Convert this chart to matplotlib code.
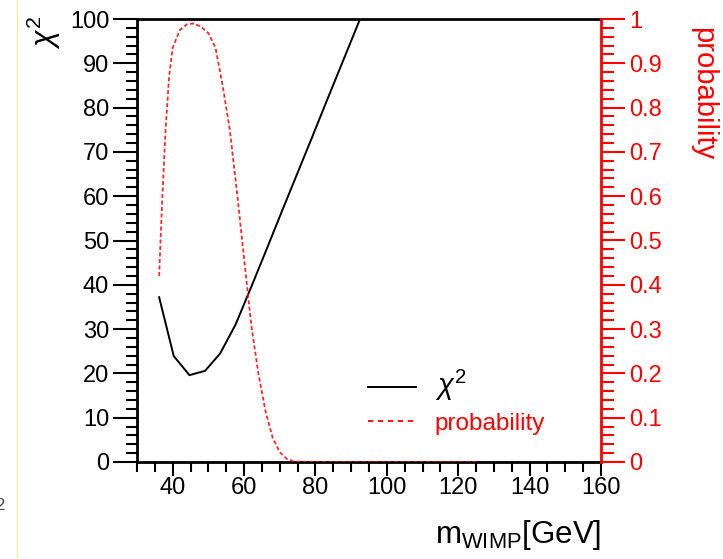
import matplotlib
matplotlib.use('Agg')
from matplotlib import pyplot as plt
from matplotlib.ticker import MultipleLocator, FuncFormatter
from matplotlib.lines import Line2D

plt.rcParams['font.family'] = ['Liberation Sans', 'DejaVu Sans']
plt.rcParams['mathtext.fontset'] = 'custom'
plt.rcParams['mathtext.rm'] = 'Liberation Sans'
plt.rcParams['mathtext.it'] = 'Liberation Sans:italic'

# chi2 curve (left axis)
chi2_mass = [36.2, 40.3, 44.7, 49.1, 53.3, 57.6, 62.0, 66.3, 70.6, 74.9,
             79.2, 83.5, 87.8, 92.5]
chi2_vals = [37.2, 23.9, 19.6, 20.6, 24.5, 31.0, 39.5, 48.0, 56.6, 65.1,
             73.6, 82.2, 90.7, 100.0]

# probability curve (right axis)
prob_mass = [36.2, 37.0, 38.0, 39.0, 40.0, 42.0, 44.0, 46.0, 48.0, 50.0,
             52.0, 54.0, 56.0, 58.0, 60.0, 62.0, 64.0, 66.0, 68.0, 70.0,
             72.0, 74.0, 80.0, 90.0, 100.0, 110.0, 125.0]
prob_vals = [0.42, 0.58, 0.75, 0.87, 0.935, 0.975, 0.988, 0.99, 0.982, 0.968,
             0.935, 0.85, 0.75, 0.61, 0.46, 0.31, 0.2, 0.115, 0.055, 0.022,
             0.007, 0.001, 0.0, 0.0, 0.0, 0.0, 0.0]

W, H = 723, 559
fig = plt.figure(figsize=(W / 100, H / 100), dpi=100)
ax = fig.add_axes([137 / W, 1 - 462 / H, (601 - 137) / W, (462 - 19) / H])
ax2 = ax.twinx()

ax.plot(chi2_mass, chi2_vals, color='black', lw=1.4)
ax2.plot(prob_mass, prob_vals, color='red', lw=1.3, ls=(0, (2.2, 1.4)),
         alpha=0.85)

ax.set_xlim(30, 160)
ax.set_ylim(0, 100)
ax2.set_ylim(0, 1)

# left / bottom axes
ax.xaxis.set_major_locator(MultipleLocator(20))
ax.xaxis.set_minor_locator(MultipleLocator(5))
ax.yaxis.set_major_locator(MultipleLocator(10))
ax.yaxis.set_minor_locator(MultipleLocator(2))
ax.tick_params(axis='x', which='major', direction='out', length=10, width=1.5,
               labelsize=17, pad=1, top=False)
ax.tick_params(axis='x', which='minor', direction='out', length=7, width=1.5,
               top=False)
ax.tick_params(axis='y', which='major', direction='out', length=17, width=1.5,
               labelsize=17, pad=3, right=False)
ax.tick_params(axis='y', which='minor', direction='out', length=8, width=1.5,
               right=False)
for s in ['left', 'bottom', 'top']:
    ax.spines[s].set_linewidth(2)
ax.spines['right'].set_visible(False)

# right axis in red
ax2.yaxis.set_major_locator(MultipleLocator(0.1))
ax2.yaxis.set_minor_locator(MultipleLocator(0.02))
ax2.yaxis.set_major_formatter(FuncFormatter(lambda v, p: '%g' % round(v, 2)))
ax2.tick_params(axis='y', which='major', direction='out', length=17, width=1.5,
                labelsize=17, pad=3, colors='red')
ax2.tick_params(axis='y', which='minor', direction='out', length=9, width=1.5,
                colors='red')
for s in ['left', 'bottom', 'top']:
    ax2.spines[s].set_visible(False)
ax2.spines['right'].set_color('red')
ax2.spines['right'].set_linewidth(2)

# axis titles
fig.text(44 / W, 1 - 32 / H, r'$\chi^{2}$', rotation=90, fontsize=22,
         ha='center', va='center')
fig.text(703 / W, 1 - 94 / H, 'probability', rotation=-90, fontsize=21,
         color='red', ha='center', va='center')
fig.text(601 / W, 1 - 535 / H, r'm$_{\mathrm{WIMP}}$[GeV]', fontsize=22.5,
         ha='right', va='center')

# legend
handles = [Line2D([], [], color='black', lw=1.4),
           Line2D([], [], color='red', lw=1.3, ls=(0, (3, 2.5)))]
leg = ax.legend(handles, [r'$\chi^{2}$', 'probability'], loc='lower left',
                bbox_to_anchor=(0.45, 0.012), frameon=False, handlelength=2.0,
                handletextpad=0.75, labelspacing=0.4, fontsize=17.5)
texts = leg.get_texts()
texts[0].set_fontsize(21)
texts[1].set_color('red')

# scanner artifacts at the left edge
fig.add_artist(Line2D([17 / W, 17 / W], [0, 1], color='#f5f080', lw=0.8))
fig.text(0.0, 1 - 505 / H, '2', fontsize=12, color='#444444',
         va='center', ha='center')

fig.savefig('out.png', dpi=100)
